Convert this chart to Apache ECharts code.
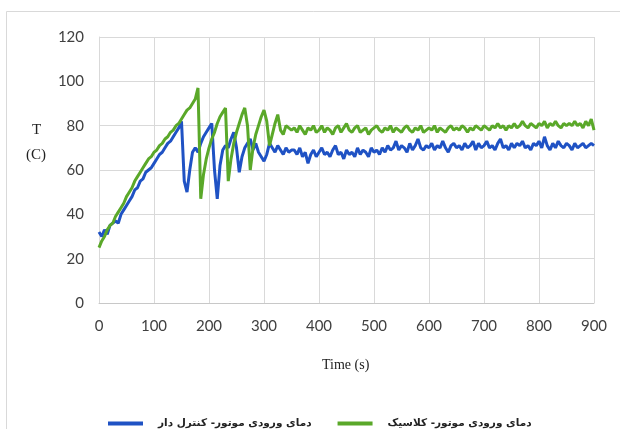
<!DOCTYPE html>
<html>
<head>
<meta charset="utf-8">
<script src="https://cdn.jsdelivr.net/npm/echarts@6/dist/echarts.min.js"></script>
<style>
html,body{margin:0;padding:0;background:#fff;}
#chart{width:620px;height:429px;}
</style>
</head>
<body>
<div id="chart"></div>
<script>
// time samples (s)
const times = [
  0,5,10,15,20,25,30,35,40,45,50,55,60,65,70,75,80,85,90,95,
  100,105,110,115,120,125,130,135,140,145,150,155,160,165,170,175,180,185,190,195,
  200,205,210,215,220,225,230,235,240,245,250,255,260,265,270,275,280,285,290,295,
  300,305,310,315,320,325,330,335,340,345,350,
  355,360,365,370,375,380,385,390,395,400,405,410,415,420,425,430,435,440,445,450,
  455,460,465,470,475,480,485,490,495,500,505,510,515,520,525,530,535,540,545,550,
  555,560,565,570,575,580,585,590,595,600,605,610,615,620,625,630,635,640,645,650,
  655,660,665,670,675,680,685,690,695,700,705,710,715,720,725,730,735,740,745,750,
  755,760,765,770,775,780,785,790,795,800,805,810,815,820,825,830,835,840,845,850,
  855,860,865,870,875,880,885,890,895,900
];
// controlled engine inlet temperature (blue)
const controlled = [
  32,30,33,31,35,36,37,36,40,42,44,46,48,51,52,55,56,59,60,61,
  63,65,67,68,70,72,73,75,77,79,82,55,50,60,68,70,68,72,75,77,
  79,81,60,47,62,69,71,70,74,77,70,59,66,70,72,74,69,72,68,66,
  64,67,72,70,68,71,69,67,70,68,69,
  69,67,70,66,68,63,67,69,66,68,
  70,67,68,66,69,71,67,68,65,69,
  67,68,66,70,67,69,68,66,70,68,
  69,67,70,68,71,69,70,73,69,71,
  70,68,72,69,71,74,70,69,71,70,
  72,69,71,70,73,70,68,71,72,70,
  71,69,72,70,71,73,69,72,70,71,
  73,70,71,69,72,74,70,71,69,72,
  70,72,71,73,70,71,69,72,71,73,
  70,75,71,69,72,70,73,71,70,72,
  71,69,72,70,71,72,70,71,72,71
];
// classic engine inlet temperature (green)
const classic = [
  25,28,30,33,35,36,39,41,43,45,48,50,52,55,57,59,61,63,65,66,
  68,69,71,72,74,75,77,78,80,81,83,85,87,88,90,92,97,47,58,65,
  70,74,77,81,84,86,88,55,65,72,77,81,85,88,80,60,70,76,80,84,
  87,82,71,76,81,85,78,76,80,79,78,
  79,77,80,78,76,79,78,80,77,78,
  80,77,79,78,76,79,80,77,79,81,
  78,77,79,80,77,78,79,76,78,79,
  80,78,77,79,78,80,77,79,78,77,
  79,80,78,77,79,78,80,77,78,79,
  78,80,77,79,78,77,79,80,78,79,
  78,80,79,77,79,78,80,79,78,80,
  79,78,80,79,81,79,80,78,80,79,
  81,79,80,82,80,79,81,80,79,81,
  80,82,79,81,80,82,80,79,81,80,
  81,80,82,80,81,79,82,80,83,78
];
const seriesNames = ['دمای ورودی موتور- کنترل دار', 'دمای ورودی موتور- کلاسیک'];
const xTicks = {min: 0, max: 900, step: 100};
const yTicks = {min: 0, max: 120, step: 20};

const chart = echarts.init(document.getElementById('chart'), null, {renderer: 'canvas'});
const gridColor = '#d9d9d9';
const labelFont = {fontFamily: 'Lato, "Open Sans", sans-serif', fontSize: 15, color: '#404040'};
chart.setOption({
  animation: false,
  backgroundColor: '#ffffff',
  grid: {left: 99, right: 26, top: 37, bottom: 126, containLabel: false},
  xAxis: {
    type: 'value', min: xTicks.min, max: xTicks.max, interval: xTicks.step,
    axisLine: {show: true, lineStyle: {color: '#c8c8c8', width: 1}},
    axisTick: {show: false},
    axisLabel: Object.assign({margin: 16}, labelFont),
    splitLine: {show: true, lineStyle: {color: gridColor, width: 1}}
  },
  yAxis: {
    type: 'value', min: yTicks.min, max: yTicks.max, interval: yTicks.step,
    axisLine: {show: true, lineStyle: {color: gridColor, width: 1}},
    axisTick: {show: false},
    axisLabel: Object.assign({margin: 15}, labelFont),
    splitLine: {show: true, lineStyle: {color: gridColor, width: 1}}
  },
  legend: {
    left: 108, top: 418, padding: 0, icon: 'rect', itemWidth: 35, itemHeight: 4, itemGap: 26,
    textStyle: {fontFamily: '"DejaVu Sans", sans-serif', fontSize: 10.5, fontWeight: 'bold', color: '#222', padding: [0, 0, 0, 10]},
    data: seriesNames
  },
  graphic: [
    {type: 'rect', silent: true, z: -1, shape: {x: 6.5, y: 11.5, width: 700, height: 500}, style: {fill: 'none', stroke: gridColor, lineWidth: 1}},
    {type: 'text', left: 32, top: 123, style: {text: 'T', font: '15px "Liberation Serif", serif', fill: '#222'}},
    {type: 'text', left: 26, top: 148, style: {text: '(C)', font: '15px "Liberation Serif", serif', fill: '#222'}},
    {type: 'text', left: 322, top: 358, style: {text: 'Time (s)', font: '14px "Liberation Serif", serif', fill: '#222'}}
  ],
  series: [
    {
      name: seriesNames[0], type: 'line', showSymbol: false, symbol: 'none',
      data: times.map((t, i) => [t, controlled[i]]),
      lineStyle: {color: '#1f52c4', width: 3}, itemStyle: {color: '#1f52c4'}, z: 2
    },
    {
      name: seriesNames[1], type: 'line', showSymbol: false, symbol: 'none',
      data: times.map((t, i) => [t, classic[i]]),
      lineStyle: {color: '#5aa829', width: 3}, itemStyle: {color: '#5aa829'}, z: 3
    }
  ]
});
</script>
</body>
</html>
